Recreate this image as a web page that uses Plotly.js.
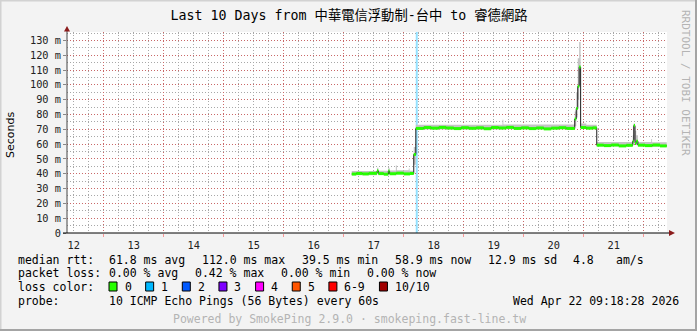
<!DOCTYPE html>
<html><head><meta charset="utf-8">
<script src="https://cdn.plot.ly/plotly-3.0.1.min.js"></script>
<style>html,body{margin:0;padding:0;background:#f3f3f3;overflow:hidden}#chart{width:697px;height:331px}</style>
</head><body><div id="chart"></div>
<script>
// ---------------- data ----------------
const chartTitle = "Last 10 Days from 中華電信浮動制-台中 to 睿德網路";
const xRange = ["2026-04-12 09:18", "2026-04-22 09:18"];

// median RTT (ms), step series
const times = [
 "2026-04-17 03:12","2026-04-17 05:00","2026-04-17 07:30","2026-04-17 10:00","2026-04-17 13:20","2026-04-17 13:50",
 "2026-04-17 16:00","2026-04-17 17:50","2026-04-17 18:20","2026-04-17 21:00","2026-04-18 00:00","2026-04-18 02:30",
 "2026-04-18 04:00","2026-04-18 04:50",
 "2026-04-18 08:00","2026-04-18 11:00","2026-04-18 14:00","2026-04-18 17:00","2026-04-18 20:00","2026-04-18 23:00",
 "2026-04-19 02:00","2026-04-19 05:00","2026-04-19 08:00","2026-04-19 11:00","2026-04-19 14:00","2026-04-19 17:00",
 "2026-04-19 20:00","2026-04-19 23:00","2026-04-20 02:00","2026-04-20 05:00","2026-04-20 08:00","2026-04-20 11:00",
 "2026-04-20 14:00","2026-04-20 17:00",
 "2026-04-20 20:24","2026-04-20 21:00","2026-04-20 21:36","2026-04-20 22:10","2026-04-20 22:45",
 "2026-04-21 01:00","2026-04-21 03:30","2026-04-21 05:12",
 "2026-04-21 08:00","2026-04-21 11:00","2026-04-21 14:00","2026-04-21 17:00","2026-04-21 19:36","2026-04-21 20:00",
 "2026-04-21 20:30","2026-04-21 21:00","2026-04-21 21:40","2026-04-22 00:30","2026-04-22 03:30","2026-04-22 06:30",
 "2026-04-22 09:12"
];
const medianMs = [
 39.8,40.2,39.9,40.3,42.0,40.1,
 39.7,41.8,40.0,40.4,39.9,40.2,
 53.0,70.6,
 71.2,70.8,71.3,70.9,70.5,71.1,
 70.7,71.0,70.4,71.2,70.9,71.3,
 70.6,71.0,70.5,70.9,70.3,70.8,
 71.1,70.6,
 77.0,84.0,99.0,112.0,71.2,
 70.8,71.0,59.3,
 59.0,59.4,58.8,59.2,62.0,72.5,
 60.5,62.0,59.3,59.0,59.4,58.8,
 58.9
];

// smoke (ping spread, ms), step series
const smokeTimes = [
 "2026-04-17 03:12","2026-04-17 13:20","2026-04-17 13:50","2026-04-17 17:50","2026-04-17 18:20","2026-04-17 20:50",
 "2026-04-17 21:15","2026-04-18 02:00","2026-04-18 02:20","2026-04-18 04:00","2026-04-18 04:50","2026-04-19 15:30",
 "2026-04-19 15:50","2026-04-20 20:24","2026-04-20 21:00","2026-04-20 21:36","2026-04-20 22:10","2026-04-20 22:45",
 "2026-04-21 01:00","2026-04-21 05:12","2026-04-21 19:36","2026-04-21 20:00","2026-04-21 20:30","2026-04-21 21:00",
 "2026-04-21 21:40","2026-04-22 03:00","2026-04-22 03:20","2026-04-22 09:12"
];
const smokeLoMs = [
 39.0,40.5,39.3,40.5,39.2,39.6,
 39.6,39.4,39.4,46.0,69.8,70.1,
 70.1,72.0,78.0,90.0,100.0,70.4,
 70.0,58.5,59.5,63.0,59.5,59.5,
 58.5,58.2,58.2,58.1
];
const smokeHiMs = [
 41.8,44.0,42.0,44.0,42.2,45.5,
 42.3,43.5,42.0,58.0,73.0,76.5,
 73.2,82.0,95.0,118.0,129.0,74.0,
 73.0,61.5,66.0,74.0,69.0,66.0,
 61.5,63.5,61.3,61.0
];

const lossEventTimes = ["2026-04-18 05:12"];
const lossEventColors = ["rgba(0,184,255,0.42)"];

const yTickVals = [0,10,20,30,40,50,60,70,80,90,100,110,120,130];
const yTickText = ["0","10 m","20 m","30 m","40 m","50 m","60 m","70 m","80 m","90 m","100 m","110 m","120 m","130 m"];

const lossLabels = ["0","1","2","3","4","5","6-9","10/10"];
const lossColors = ["#26ff00","#00b8ff","#0059ff","#7e00ff","#ff00ff","#ff5500","#ff0000","#a10000"];

const rttLabel = "median rtt:";
const rttItems = ["61.8 ms avg","112.0 ms max","39.5 ms min","58.9 ms now","12.9 ms sd","4.8","am/s"];
const lossLabel = "packet loss:";
const lossItems = ["0.00 % avg","0.42 % max","0.00 % min","0.00 % now"];
const lossHeading = "loss color:";
const probeHeading = "probe:";
const probeText = "10 ICMP Echo Pings (56 Bytes) every 60s";
const stampText = "Wed Apr 22 09:18:28 2026";
const footerText = "Powered by SmokePing 2.9.0 · smokeping.fast-line.tw";
const sideText = "RRDTOOL / TOBI OETIKER";
const yTitle = "Seconds";

// ---------------- layout helpers ----------------
const W = 697, H = 331, L = 67, R = 667, T = 32, B = 233;
const PX = x => (x - L) / (R - L);
const PY = y => (B - y) / (B - T);
const nb = s => s.replace(/ /g, "\u00a0");
const MONO = "DejaVu Sans Mono, Noto Sans CJK TC, monospace";

// green median segments (horizontal parts only)
const gx = [], gy = [];
for (let i = 0; i < times.length - 1; i++) {
  gx.push(times[i], times[i + 1], null);
  gy.push(medianMs[i], medianMs[i], null);
}

const traces = [
  {x: [xRange[0]], y: [0], xaxis: "x2", yaxis: "y2", mode: "markers", marker: {size: 1, opacity: 0}, hoverinfo: "skip"},
  {x: smokeTimes, y: smokeLoMs, mode: "lines", line: {width: 0, shape: "hv"}, hoverinfo: "skip"},
  {x: smokeTimes, y: smokeHiMs, mode: "lines", line: {width: 0, shape: "hv"}, fill: "tonexty", fillcolor: "#c4c4c4", hoverinfo: "skip"},
  {x: times, y: medianMs, mode: "lines", line: {width: 1, color: "#1e1e1e", shape: "hv"}, hoverinfo: "skip"},
  {x: gx, y: gy, mode: "lines", line: {width: 3, color: lossColors[0]}, connectgaps: false, hoverinfo: "skip"}
];

const shapes = [];
lossEventTimes.forEach((t, i) => shapes.push({type: "line", xref: "x", yref: "paper", x0: t, x1: t, y0: 0, y1: 1,
  line: {color: lossEventColors[i], width: 2}, layer: "below"}));
// axes lines + arrows
shapes.push({type: "line", xref: "paper", yref: "paper", x0: PX(67), x1: PX(67), y0: PY(233), y1: PY(29), line: {color: "#444", width: 1}});
shapes.push({type: "path", xref: "paper", yref: "paper",
  path: `M ${PX(64)} ${PY(31.5)} L ${PX(70)} ${PY(31.5)} L ${PX(67)} ${PY(26)} Z`, fillcolor: "#8b1c1c", line: {width: 0}});
shapes.push({type: "line", xref: "paper", yref: "paper", x0: PX(63), x1: PX(670), y0: PY(233), y1: PY(233), line: {color: "#000", width: 1}});
shapes.push({type: "path", xref: "paper", yref: "paper",
  path: `M ${PX(669)} ${PY(230)} L ${PX(669)} ${PY(236)} L ${PX(675)} ${PY(233)} Z`, fillcolor: "#8b1c1c", line: {width: 0}});
// frame
shapes.push({type: "rect", xref: "paper", yref: "paper", x0: PX(0), x1: PX(697), y0: PY(0), y1: PY(1.5), fillcolor: "#d2d2d2", line: {width: 0}});
shapes.push({type: "rect", xref: "paper", yref: "paper", x0: PX(0), x1: PX(1.5), y0: PY(0), y1: PY(331), fillcolor: "#d2d2d2", line: {width: 0}});
shapes.push({type: "rect", xref: "paper", yref: "paper", x0: PX(695), x1: PX(697), y0: PY(0), y1: PY(331), fillcolor: "#a4a4a4", line: {width: 0}});
shapes.push({type: "rect", xref: "paper", yref: "paper", x0: PX(0), x1: PX(697), y0: PY(329), y1: PY(331), fillcolor: "#a4a4a4", line: {width: 0}});

const annotations = [];
const txt = (text, x, y, opts = {}) => annotations.push(Object.assign({
  text: nb(text), xref: "paper", yref: "paper", x: PX(x), y: PY(y), xanchor: "left", yanchor: "middle",
  showarrow: false, font: {family: MONO, size: 11.5, color: "#000"}
}, opts));

const rttX = [107.3, 200.3, 300.3, 393.3, 486, 571, 614];
const lossX = [107.3, 193.3, 279.3, 365.3];
txt(rttLabel, 16, 259.5);
rttItems.forEach((s, i) => txt(s, rttX[i], 259.5));
txt(lossLabel, 16, 273);
lossItems.forEach((s, i) => txt(s, lossX[i], 273));
txt(lossHeading, 16, 286.5);
txt(probeHeading, 16, 300.5);
txt(probeText, 107.3, 300.5);
txt(stampText, 681, 300.5, {xanchor: "right"});
txt(footerText, 349, 318.5, {xanchor: "center", font: {family: MONO, size: 11.5, color: "#b4b4b4"}});
txt(sideText, 686, 83, {xanchor: "center", textangle: 90, font: {family: MONO, size: 11, color: "#b4b4b4"}});
txt(yTitle, 10, 135, {xanchor: "center", textangle: -90, font: {family: "DejaVu Sans, sans-serif", size: 11, color: "#000"}});

// loss colour swatches
let sx = 109;
lossLabels.forEach((lab, i) => {
  shapes.push({type: "rect", xref: "paper", yref: "paper", x0: PX(sx), x1: PX(sx + 8), y0: PY(282), y1: PY(291),
    fillcolor: lossColors[i], line: {color: "#000", width: 1}});
  txt(lab, sx + 13.5, 286.5);
  sx = sx + 13.5 + 6.95 * lab.length + 16.2;
});

const axisFont = {family: MONO, size: 10.3, color: "#222"};
const majorGrid = "rgba(255,0,0,0.38)", minorGrid = "#a8a8a8";
const common = {gridwidth: 1, griddash: "1px,2px", zeroline: false, showline: false, fixedrange: true};
const layout = {
  width: W, height: H,
  paper_bgcolor: "#f3f3f3", plot_bgcolor: "#ffffff",
  margin: {l: L, r: W - R, t: T, b: H - B, pad: 0},
  showlegend: false,
  title: {text: chartTitle, xref: "container", yref: "container", x: 349 / W, y: 1 - 15 / H,
    xanchor: "center", yanchor: "middle", font: {family: MONO, size: 13.3, color: "#000"}},
  // base axes: minor grid (6 h, 5 ms)
  xaxis: Object.assign({type: "date", range: xRange, tick0: "2026-04-12 00:00", dtick: 21600000,
    showgrid: true, gridcolor: minorGrid, showticklabels: false, ticks: ""}, common),
  yaxis: Object.assign({range: [0, 135.7], tick0: 0, dtick: 5,
    showgrid: true, gridcolor: minorGrid, showticklabels: false, ticks: ""}, common),
  // overlay axes: major grid (1 day, 10 ms) + labels, drawn above the minor grid
  xaxis2: Object.assign({type: "date", overlaying: "x", anchor: "y2", side: "bottom", range: xRange,
    tickformat: "%d", ticklabelmode: "period", tick0: "2026-04-12 00:00", dtick: 86400000,
    showgrid: true, gridcolor: majorGrid, ticks: "outside", ticklen: 3, tickcolor: majorGrid, tickfont: axisFont}, common),
  yaxis2: Object.assign({overlaying: "y", anchor: "x2", side: "left", range: [0, 135.7],
    tickmode: "array", tickvals: yTickVals, ticktext: yTickText,
    showgrid: true, gridcolor: majorGrid, ticks: "outside", ticklen: 3, tickcolor: "#888", tickfont: axisFont}, common),
  shapes: shapes,
  annotations: annotations
};

Plotly.newPlot("chart", traces, layout, {staticPlot: true, displayModeBar: false});
</script>
</body></html>
